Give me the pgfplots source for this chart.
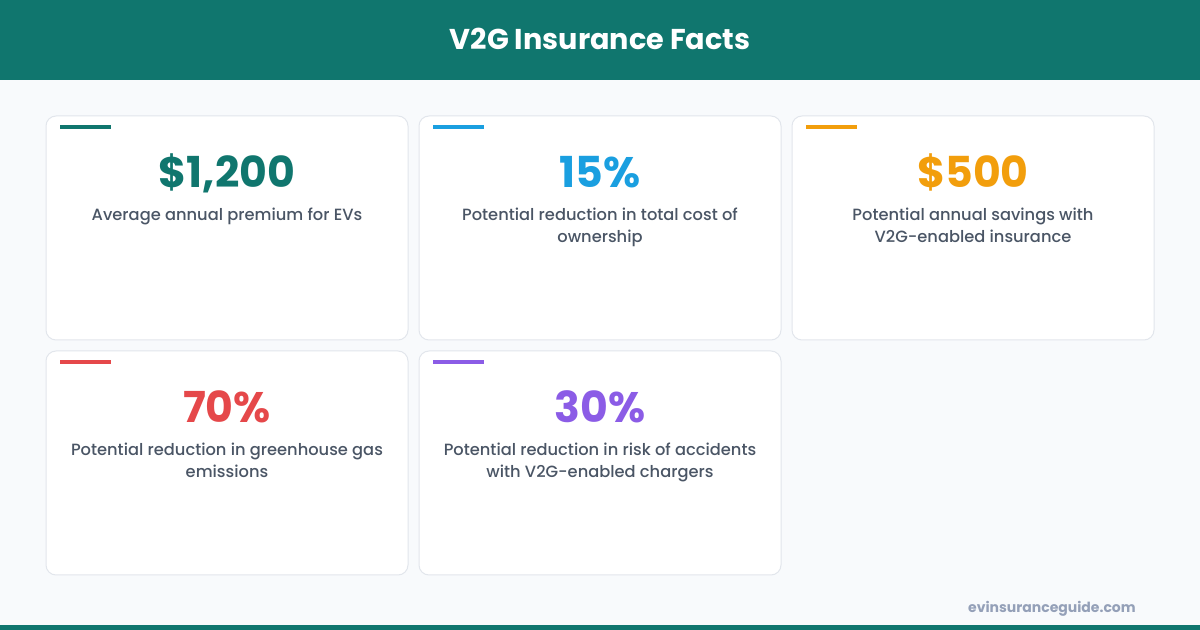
\documentclass[border=0pt]{standalone}
\usepackage{pgfplots}
\pgfplotsset{compat=1.18}
\usepackage{fontspec}
\setmainfont{Poppins}
\newfontfamily\med{Poppins Medium}
\definecolor{brand}{HTML}{10766E}
\definecolor{cblue}{HTML}{1A9FE0}
\definecolor{corange}{HTML}{F29E0C}
\definecolor{cred}{HTML}{E5484A}
\definecolor{cpurple}{HTML}{8B5CE6}
\definecolor{desc}{HTML}{4A5565}
\definecolor{foot}{HTML}{94A0B8}
\definecolor{bg}{HTML}{F8FAFC}
\definecolor{border}{HTML}{E2E6EC}
\newcommand{\card}[6]{%
  % #1 x0, #2 y0, #3 color, #4 number, #5 line1, #6 line2
  \fill[white, draw=border, line width=0.75pt, rounded corners=7.5pt] (axis cs:#1,#2) rectangle (axis cs:{#1+362},{#2+224});
  \fill[#3] (axis cs:{#1+14},{#2+9}) rectangle (axis cs:{#1+65},{#2+13});
  \node[anchor=base, inner sep=0pt, text=#3, font=\fontsize{32}{38}\selectfont\bfseries] at (axis cs:{#1+181},{#2+72}) {#4};
  \node[anchor=base, inner sep=0pt, text=desc, font=\med\fontsize{12.2}{14}\selectfont] at (axis cs:{#1+181},{#2+105}) {#5};
  \node[anchor=base, inner sep=0pt, text=desc, font=\med\fontsize{12.2}{14}\selectfont] at (axis cs:{#1+181},{#2+127}) {#6};
}
\begin{document}
\begin{tikzpicture}
\begin{axis}[
  width=900pt, height=472.5pt, scale only axis,
  xmin=0, xmax=1200, ymin=0, ymax=630, y dir=reverse,
  hide axis, clip=false]
  \fill[bg] (axis cs:0,0) rectangle (axis cs:1200,630);
  \fill[brand] (axis cs:0,0) rectangle (axis cs:1200,80);
  \fill[brand] (axis cs:0,625) rectangle (axis cs:1200,630);
  \node[anchor=base, inner sep=0pt, text=white, font=\fontsize{21.5}{26}\selectfont\bfseries] at (axis cs:600,50) {V2G Insurance Facts};
  \card{46}{116}{brand}{\$1,200}{Average annual premium for EVs}{}
  \card{419}{116}{cblue}{15\%}{Potential reduction in total cost of}{ownership}
  \card{792}{116}{corange}{\$500}{Potential annual savings with}{V2G-enabled insurance}
  \card{46}{351}{cred}{70\%}{Potential reduction in greenhouse gas}{emissions}
  \card{419}{351}{cpurple}{30\%}{Potential reduction in risk of accidents}{with V2G-enabled chargers}
  \node[anchor=base east, inner sep=0pt, text=foot, font=\fontsize{10.5}{12}\selectfont\bfseries] at (axis cs:1136,613) {evinsuranceguide.com};
\end{axis}
\end{tikzpicture}
\end{document}
